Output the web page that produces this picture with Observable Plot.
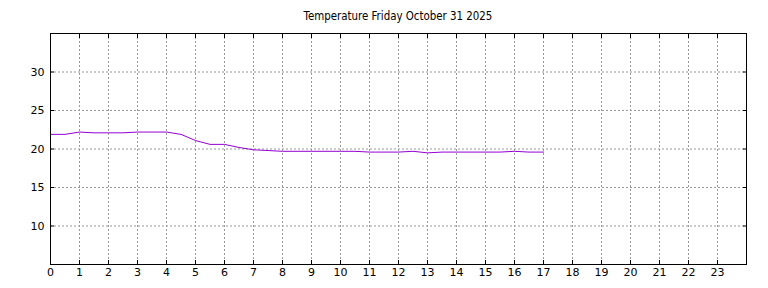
<!DOCTYPE html>
<html>
<head>
<meta charset="utf-8">
<script src="https://cdn.jsdelivr.net/npm/d3@7"></script>
<script src="https://cdn.jsdelivr.net/npm/@observablehq/plot@0.6"></script>
<style>
  html, body { margin: 0; padding: 0; background: #fff; }
  #wrap { position: relative; width: 768px; height: 288px; }
  #title { position: absolute; left: 0; top: 9px; width: 796px; text-align: center;
    font-family: "DejaVu Sans", sans-serif; font-size: 11.4px; font-stretch: condensed; color: #000; }
  svg { font-family: "DejaVu Sans", sans-serif; }
</style>
</head>
<body>
<div id="wrap">
  <div id="title">Temperature Friday October 31 2025</div>
</div>
<script>
const title = "Temperature Friday October 31 2025";
const hours = [0, 0.5, 1, 1.5, 2, 2.5, 3, 3.5, 4, 4.5, 5, 5.5, 6, 6.5, 7, 7.5, 8, 8.5, 9, 9.5, 10, 10.5, 11, 11.5, 12, 12.5, 13, 13.5, 14, 14.5, 15, 15.5, 16, 16.5, 17];
const temps = [21.9, 21.9, 22.2, 22.1, 22.1, 22.1, 22.2, 22.2, 22.2, 21.9, 21.1, 20.6, 20.6, 20.2, 19.9, 19.8, 19.7, 19.7, 19.7, 19.7, 19.7, 19.7, 19.6, 19.6, 19.6, 19.7, 19.5, 19.6, 19.6, 19.6, 19.6, 19.6, 19.7, 19.6, 19.6];
const xTicks = d3.range(0, 24);
const yTicks = [10, 15, 20, 25, 30];
const xDomain = [0, 24];
const yDomain = [5, 35];

const data = hours.map((h, i) => ({hour: h, temp: temps[i]}));
const gridStyle = {stroke: "#999", strokeOpacity: 1, strokeDasharray: "2,2"};
const chart = Plot.plot({
  width: 768, height: 288,
  marginLeft: 50, marginRight: 22, marginTop: 33, marginBottom: 24,
  style: {fontSize: "11px", fontFamily: "DejaVu Sans, sans-serif", color: "#000", background: "#fff"},
  x: {domain: xDomain, label: null},
  y: {domain: yDomain, label: null},
  marks: [
    Plot.gridX(xTicks, gridStyle),
    Plot.gridY(yTicks, gridStyle),
    Plot.line(data, {x: "hour", y: "temp", stroke: "#9400d3", strokeWidth: 1}),
    Plot.frame({stroke: "#000", strokeWidth: 1}),
    Plot.axisX(xTicks, {anchor: "bottom", label: null, tickSize: -4, tickPadding: 8, tickFormat: d => String(d), stroke: "#000"}),
    Plot.axisX(xTicks, {anchor: "top", label: null, tickSize: -4, tickFormat: () => "", stroke: "#000"}),
    Plot.axisY(yTicks, {anchor: "left", label: null, tickSize: -4, tickPadding: 10, tickFormat: d => String(d), stroke: "#000"}),
    Plot.axisY(yTicks, {anchor: "right", label: null, tickSize: -4, tickFormat: () => "", stroke: "#000"})
  ]
});
document.getElementById("wrap").appendChild(chart);
</script>
</body>
</html>
